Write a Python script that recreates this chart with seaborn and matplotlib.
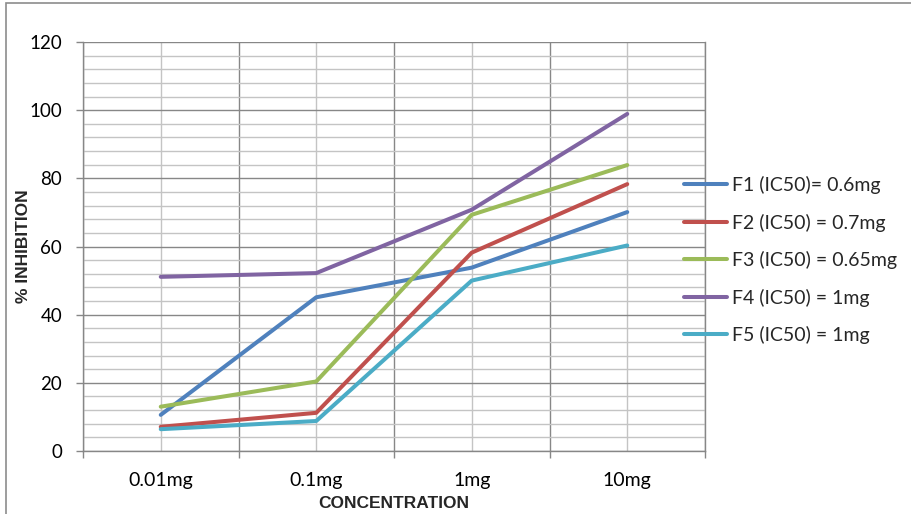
import matplotlib
matplotlib.use("Agg")
import matplotlib.pyplot as plt
from matplotlib.ticker import MultipleLocator, FixedLocator, NullFormatter
from matplotlib.patches import Rectangle
import seaborn as sns
import pandas as pd

concentrations = ["0.01mg", "0.1mg", "1mg", "10mg"]
series_names = ["F1 (IC50)= 0.6mg", "F2 (IC50) = 0.7mg", "F3 (IC50) = 0.65mg",
                "F4 (IC50) = 1mg", "F5 (IC50) = 1mg"]
f1 = [10.6, 45.1, 53.8, 70.1]
f2 = [7.1, 11.2, 58.2, 78.3]
f3 = [13.0, 20.4, 69.3, 83.9]
f4 = [51.1, 52.2, 70.8, 98.9]
f5 = [6.4, 8.8, 50.0, 60.3]
colors = ["#4F81BD", "#C0504D", "#9BBB59", "#8064A2", "#4BACC6"]

rows = []
for name, vals in zip(series_names, [f1, f2, f3, f4, f5]):
    for c, v in zip(concentrations, vals):
        rows.append({"Concentration": c, "Inhibition": v, "Series": name})
df = pd.DataFrame(rows)

sns.set_theme(style="white")
plt.rcParams["font.family"] = ["Lato", "DejaVu Sans"]

fig = plt.figure(figsize=(9.11, 5.14), dpi=100)
ax = fig.add_axes([83/911, 1-451/514, (705-83)/911, (451-42)/514])

sns.lineplot(data=df, x="Concentration", y="Inhibition", hue="Series",
             palette=colors, linewidth=2.9, ax=ax, sort=False, legend=True)

ax.set_xlim(-0.5, len(concentrations) - 0.5)
ax.set_ylim(0, 120)

# y grid
ax.yaxis.set_major_locator(MultipleLocator(20))
ax.yaxis.set_minor_locator(MultipleLocator(4))
ax.grid(which="major", axis="y", color="#878787", linewidth=1.0)
ax.grid(which="minor", axis="y", color="#C4C4C4", linewidth=1.0)

# x: boundaries as major ticks (marks + dark grid), centers as minor (labels + light grid)
n = len(concentrations)
ax.xaxis.set_major_locator(FixedLocator([i - 0.5 for i in range(n + 1)]))
ax.xaxis.set_major_formatter(NullFormatter())
ax.xaxis.set_minor_locator(FixedLocator(list(range(n))))
ax.set_xticklabels(concentrations, minor=True)
ax.grid(which="major", axis="x", color="#878787", linewidth=1.0)
ax.grid(which="minor", axis="x", color="#C4C4C4", linewidth=1.0)
ax.set_axisbelow(True)

ax.tick_params(axis="x", which="major", length=5, width=1, color="#878787", bottom=True)
ax.tick_params(axis="x", which="minor", length=0, pad=15, labelsize=14, labelcolor="black")
ax.tick_params(axis="y", which="major", length=5, width=1, color="#878787", left=True,
               pad=10, labelsize=13.5, labelcolor="black")
ax.tick_params(axis="y", which="minor", length=0)

for s in ax.spines.values():
    s.set_color("#878787")
    s.set_linewidth(1.0)
ax.spines["top"].set_visible(False)

lab_font = dict(family=["Liberation Sans", "DejaVu Sans"], fontsize=12.5, fontweight="bold")
ax.set_xlabel("CONCENTRATION", labelpad=5, **lab_font)
ax.set_ylabel("% INHIBITION", labelpad=-1, **lab_font)

handles, labels = ax.get_legend_handles_labels()
ax.get_legend().remove()
fig.legend(handles, labels, loc="center left", bbox_to_anchor=(684/911, 1 - 260/514),
           frameon=False, fontsize=14, handlelength=2.2, handletextpad=0.25,
           labelspacing=1.0, borderpad=0, borderaxespad=0)

fig.patches.append(Rectangle((6/911, -0.05), 1.2, 1 - 3/514 + 0.05,
                             transform=fig.transFigure, fill=False,
                             edgecolor="#8c8c8c", linewidth=1.2))

fig.savefig("out.png", dpi=100)
